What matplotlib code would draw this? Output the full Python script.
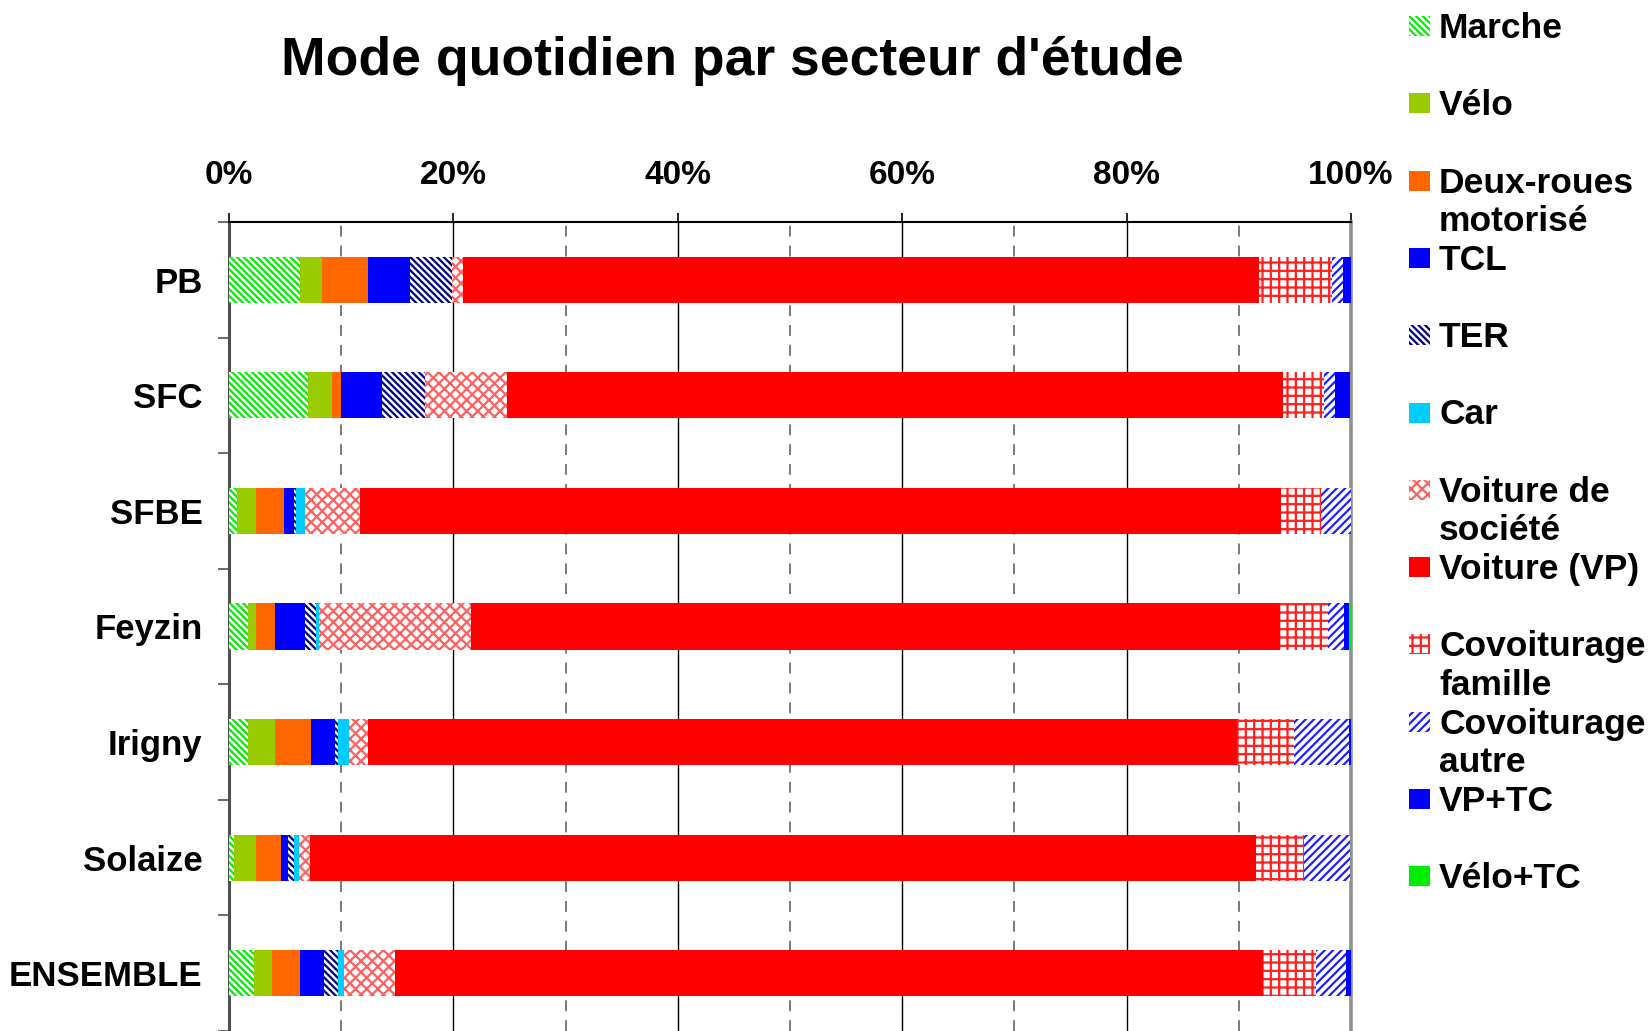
import matplotlib
matplotlib.use('Agg')
import matplotlib.pyplot as plt
import numpy as np
from matplotlib.patches import Rectangle

plt.rcParams['font.family'] = ['Liberation Sans', 'DejaVu Sans']
plt.rcParams['font.weight'] = 'bold'
plt.rcParams['hatch.linewidth'] = 1.6

# sectors (top to bottom)
secteurs = ['PB', 'SFC', 'SFBE', 'Feyzin', 'Irigny', 'Solaize', 'ENSEMBLE']

# modes and their shares (%) per sector
modes = ['Marche', 'Vélo', 'Deux-roues\nmotorisé', 'TCL', 'TER', 'Car',
         'Voiture de\nsociété', 'Voiture (VP)', 'Covoiturage\nfamille',
         'Covoiturage\nautre', 'VP+TC', 'Vélo+TC']

marche = [6.3, 7.0, 0.7, 1.7, 1.7, 0.45, 2.2]
velo = [2.0, 2.15, 1.7, 0.7, 2.4, 1.95, 1.6]
deux_roues = [4.1, 0.8, 2.5, 1.7, 3.2, 2.2, 2.5]
tcl = [3.7, 3.7, 0.9, 2.7, 2.15, 0.7, 2.2]
ter = [3.8, 3.8, 0.2, 0.95, 0.3, 0.45, 1.2]
car = [0.0, 0.0, 0.8, 0.3, 0.95, 0.5, 0.55]
voiture_societe = [1.0, 7.3, 4.9, 13.5, 1.7, 1.0, 4.55]
voiture_vp = [70.9, 69.2, 82.1, 72.1, 77.4, 84.3, 77.4]
covoit_famille = [6.5, 3.6, 3.5, 4.3, 5.1, 4.3, 4.7]
covoit_autre = [1.0, 1.0, 2.7, 1.4, 4.9, 4.1, 2.65]
vp_tc = [0.7, 1.4, 0.0, 0.5, 0.2, 0.0, 0.45]
velo_tc = [0.0, 0.0, 0.0, 0.25, 0.0, 0.0, 0.0]

series = [marche, velo, deux_roues, tcl, ter, car, voiture_societe,
          voiture_vp, covoit_famille, covoit_autre, vp_tc, velo_tc]

# (face colour, hatch colour, hatch)
styles = [('white', '#00EE00', '\\\\\\\\\\'),
          ('#99CC00', '#99CC00', None),
          ('#FF6600', '#FF6600', None),
          ('#0000FF', '#0000FF', None),
          ('white', '#000080', '\\\\\\\\\\'),
          ('#00CCFF', '#00CCFF', None),
          ('white', '#FF6060', 'xxx'),
          ('#FF0000', '#FF0000', None),
          ('white', '#FF2020', '++'),
          ('white', '#1F1FFF', '////'),
          ('#0000FF', '#0000FF', None),
          ('#00EE00', '#00EE00', None)]

W, H = 1651, 1031
fig = plt.figure(figsize=(W / 100, H / 100), dpi=100)
ax = fig.add_axes([229 / W, 0.0, (1351 - 229) / W, 1 - 222 / H])

y = np.arange(len(secteurs))
left = np.zeros(len(secteurs))
for vals, (fc, ec, hatch) in zip(series, styles):
    vals = np.array(vals)
    ax.barh(y, vals, left=left, height=0.4, color=fc, edgecolor=ec,
            hatch=hatch, linewidth=0, zorder=3)
    left += vals

ax.set_xlim(0, 100)
ax.set_ylim(len(secteurs) - 0.5, -0.5)

# gridlines: solid every 20 %, dashed in between
for xv in [20, 40, 60, 80]:
    ax.axvline(xv, color='black', lw=1.0, zorder=1)
for xv in [10, 30, 50, 70, 90]:
    ax.axvline(xv, color='#707070', lw=1.3, ls=(0, (6, 5)), zorder=1)

ax.xaxis.tick_top()
ax.set_xticks(np.arange(0, 101, 20))
ax.set_xticklabels([f'{v}%' for v in range(0, 101, 20)])
ax.tick_params(axis='x', direction='out', length=6.5, width=1.2, pad=16,
               labelsize=24)

ax.set_yticks(np.arange(-0.5, len(secteurs), 1.0))
ax.set_yticklabels([])
ax.set_yticks(y, minor=True)
ax.set_yticklabels(secteurs, minor=True)
ax.tick_params(axis='y', which='major', direction='out', length=8,
               width=1.3, color='#606060')
ax.tick_params(axis='y', which='minor', length=0, pad=19, labelsize=25)

ax.spines['bottom'].set_visible(False)
ax.spines['top'].set_linewidth(1.5)
ax.spines['left'].set_color('#505050')
ax.spines['left'].set_linewidth(2.2)
ax.spines['right'].set_color('#909090')
ax.spines['right'].set_linewidth(2.6)

fig.text(732 / W, 1 - 61 / H, "Mode quotidien par secteur d'étude",
         fontsize=38.5, fontweight='bold', ha='center', va='center')

# legend drawn by hand on the right side
y0, step = 26, 77.3
for i, (lab, (fc, ec, hatch)) in enumerate(zip(modes, styles)):
    yc = y0 + i * step
    rect = Rectangle((1409 / W, 1 - (yc + 10) / H), 21 / W, 20 / H,
                     transform=fig.transFigure, facecolor=fc, edgecolor=ec,
                     hatch=hatch, linewidth=0)
    fig.add_artist(rect)
    fig.text(1439 / W, 1 - (yc - 14) / H, lab, fontsize=25.5,
             fontweight='bold', ha='left', va='top', linespacing=1.2)

fig.savefig('out.png', dpi=100)
